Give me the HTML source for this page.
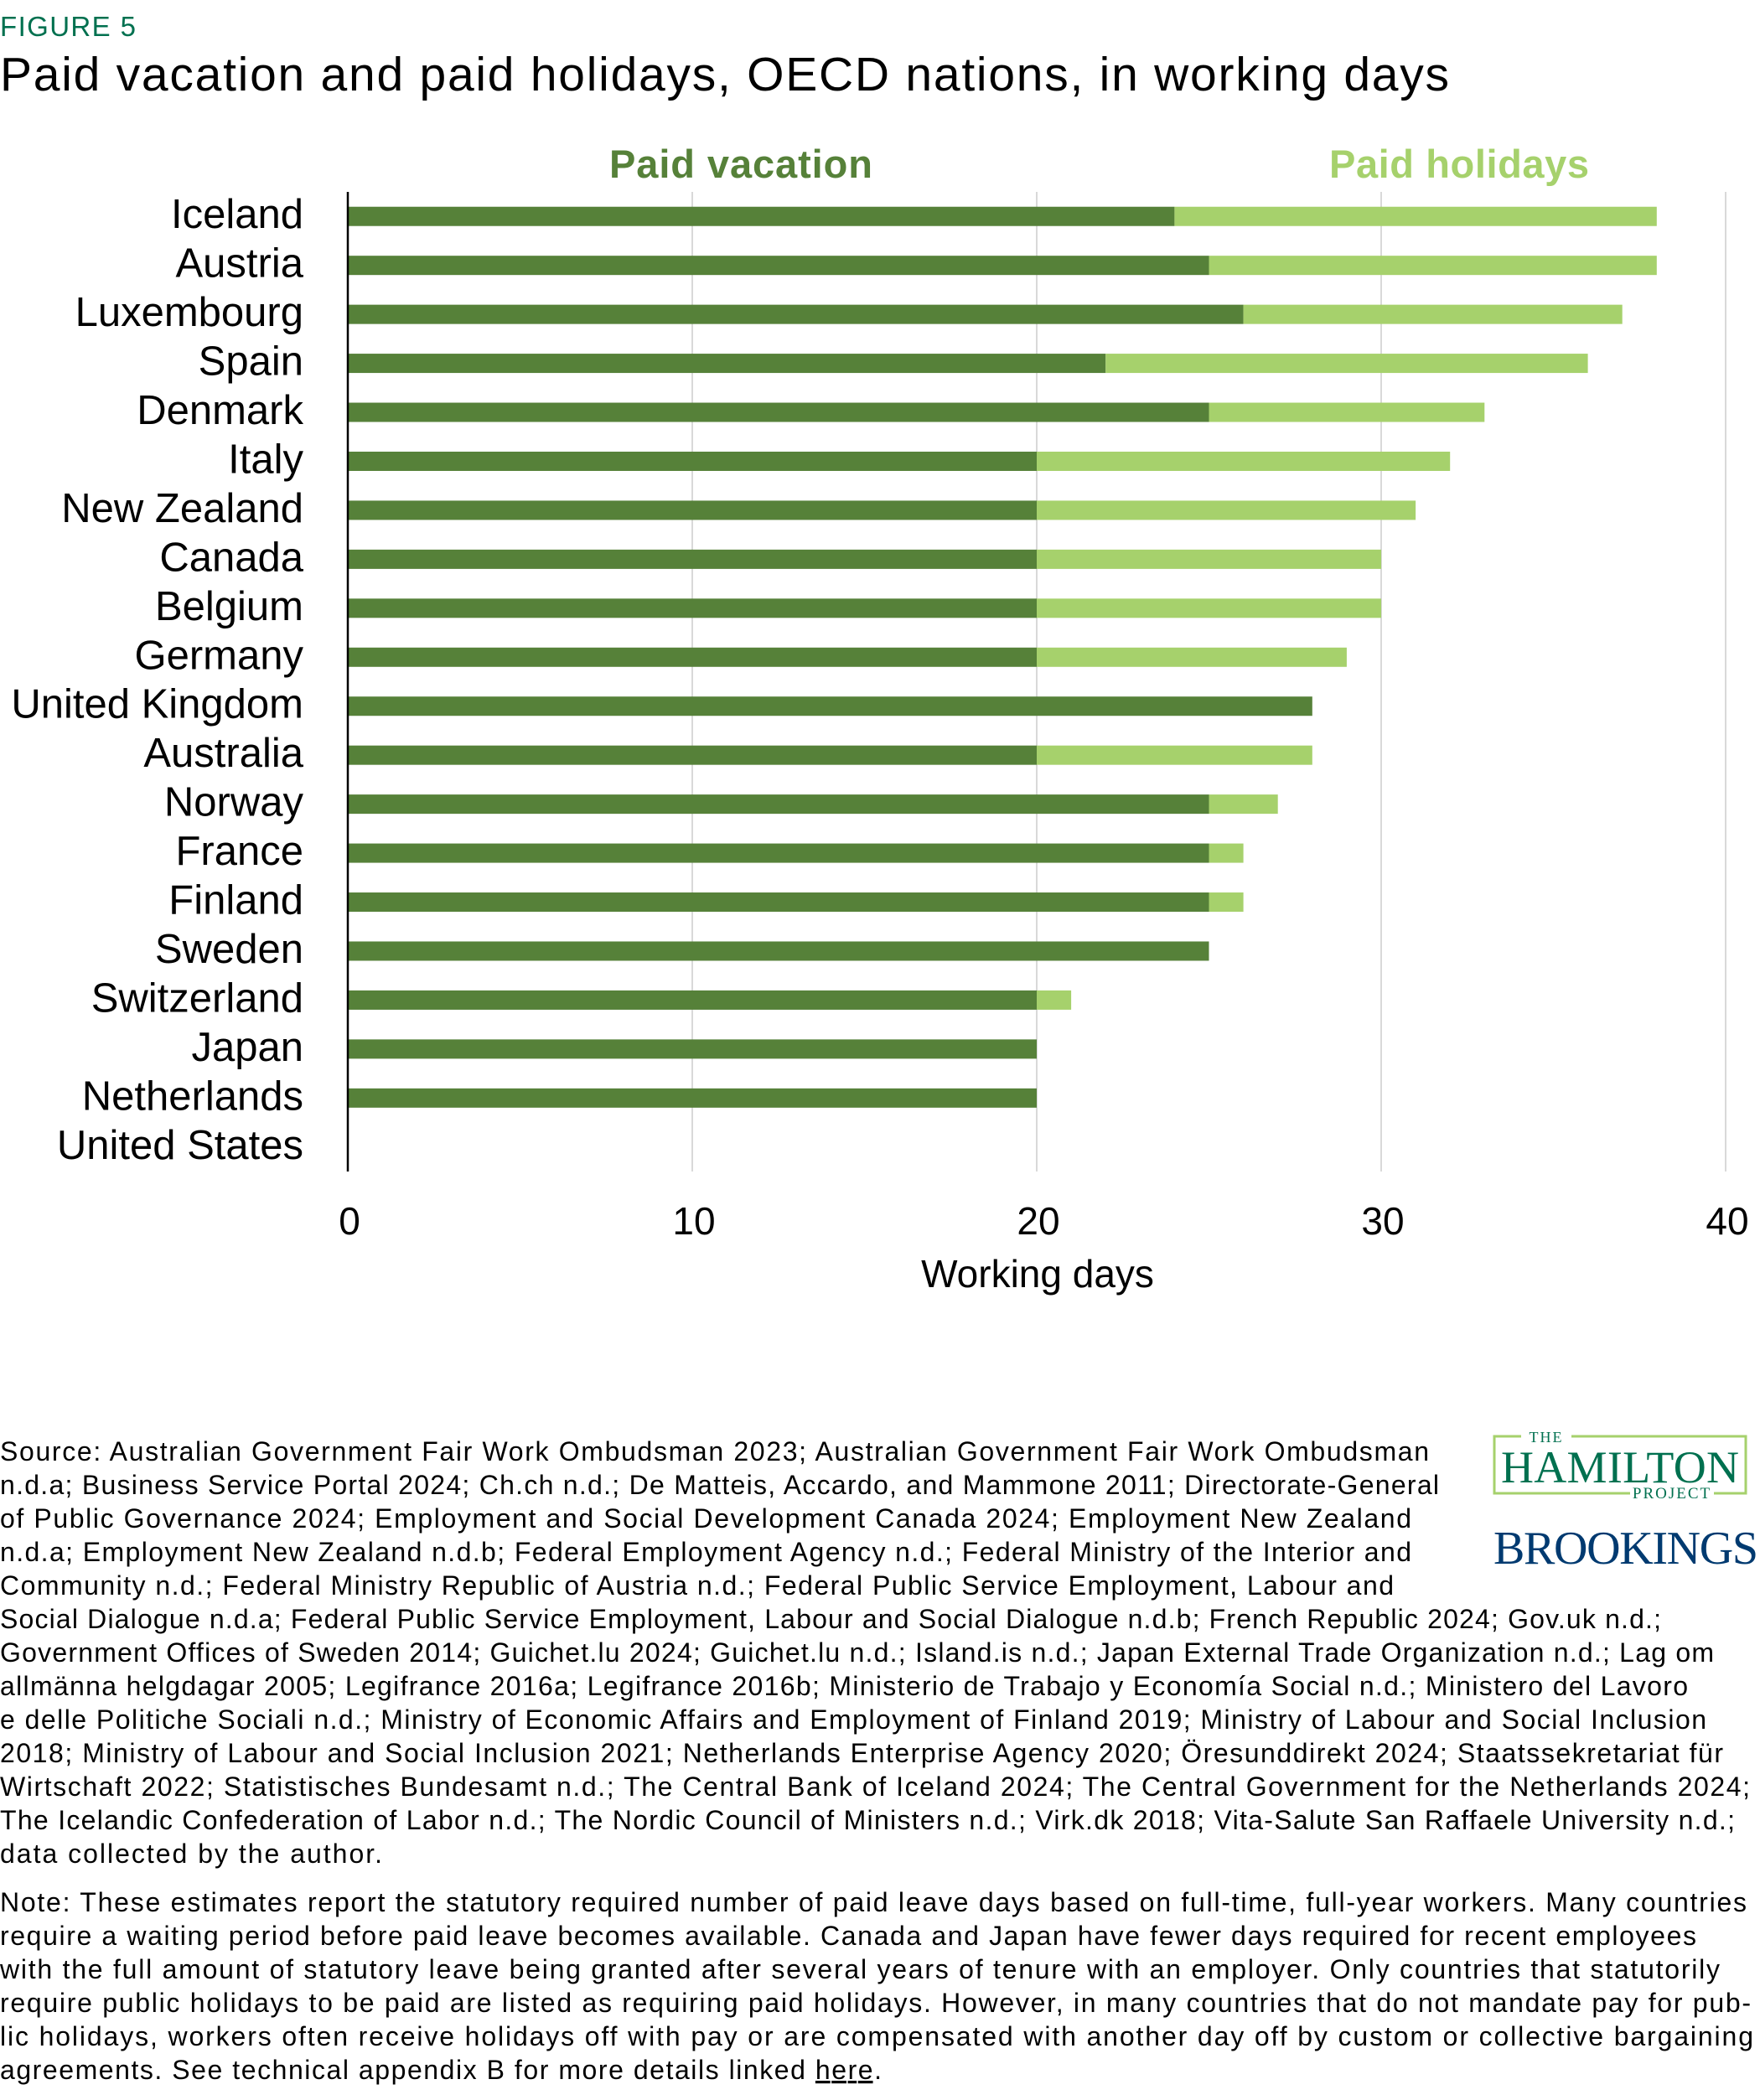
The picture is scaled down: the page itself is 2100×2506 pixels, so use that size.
<!DOCTYPE html>
<html><head><meta charset="utf-8"><style>
html,body{margin:0;padding:0;background:#fff;}
svg{display:block;font-family:"Liberation Sans",sans-serif;}
</style></head><body>
<svg id="chart" width="2100" height="2506" viewBox="0 0 2100 2506" xmlns="http://www.w3.org/2000/svg">
<text x="0" y="43" font-size="33" fill="#00704f" textLength="162">FIGURE 5</text>
<text x="0" y="108" font-size="57" fill="#000" textLength="1729">Paid vacation and paid holidays, OECD nations, in working days</text>
<text x="727" y="212" font-size="47" font-weight="bold" fill="#568139" textLength="314">Paid vacation</text>
<text x="1586" y="212" font-size="47" font-weight="bold" fill="#a6d16c" textLength="310">Paid holidays</text>
<g id="grid"></g>
<g id="bars"></g>
<g id="ylabels"></g>
<g id="xlabels"></g>
<text x="1238" y="1536" font-size="46" text-anchor="middle" fill="#000">Working days</text>

<g font-size="32" fill="#000">
<text x="0" y="1743" textLength="1705">Source: Australian Government Fair Work Ombudsman 2023; Australian Government Fair Work Ombudsman</text>
<text x="0" y="1783" textLength="1717">n.d.a; Business Service Portal 2024; Ch.ch n.d.; De Matteis, Accardo, and Mammone 2011; Directorate-General</text>
<text x="0" y="1823" textLength="1684">of Public Governance 2024; Employment and Social Development Canada 2024; Employment New Zealand</text>
<text x="0" y="1863" textLength="1684">n.d.a; Employment New Zealand n.d.b; Federal Employment Agency n.d.; Federal Ministry of the Interior and</text>
<text x="0" y="1903" textLength="1663">Community n.d.; Federal Ministry Republic of Austria n.d.; Federal Public Service Employment, Labour and</text>
<text x="0" y="1943" textLength="1982">Social Dialogue n.d.a; Federal Public Service Employment, Labour and Social Dialogue n.d.b; French Republic 2024; Gov.uk n.d.;</text>
<text x="0" y="1983" textLength="2045">Government Offices of Sweden 2014; Guichet.lu 2024; Guichet.lu n.d.; Island.is n.d.; Japan External Trade Organization n.d.; Lag om</text>
<text x="0" y="2023" textLength="2014">allmänna helgdagar 2005; Legifrance 2016a; Legifrance 2016b; Ministerio de Trabajo y Economía Social n.d.; Ministero del Lavoro</text>
<text x="0" y="2063" textLength="2036">e delle Politiche Sociali n.d.; Ministry of Economic Affairs and Employment of Finland 2019; Ministry of Labour and Social Inclusion</text>
<text x="0" y="2103" textLength="2056">2018; Ministry of Labour and Social Inclusion 2021; Netherlands Enterprise Agency 2020; Öresunddirekt 2024; Staatssekretariat für</text>
<text x="0" y="2143" textLength="2088">Wirtschaft 2022; Statistisches Bundesamt n.d.; The Central Bank of Iceland 2024; The Central Government for the Netherlands 2024;</text>
<text x="0" y="2183" textLength="2070">The Icelandic Confederation of Labor n.d.; The Nordic Council of Ministers n.d.; Virk.dk 2018; Vita-Salute San Raffaele University n.d.;</text>
<text x="0" y="2223" textLength="456">data collected by the author.</text>
</g>
<g font-size="32" fill="#000">
<text x="0" y="2281" textLength="2084">Note: These estimates report the statutory required number of paid leave days based on full-time, full-year workers. Many countries</text>
<text x="0" y="2321" textLength="2024">require a waiting period before paid leave becomes available. Canada and Japan have fewer days required for recent employees</text>
<text x="0" y="2361" textLength="2052">with the full amount of statutory leave being granted after several years of tenure with an employer. Only countries that statutorily</text>
<text x="0" y="2401" textLength="2089">require public holidays to be paid are listed as requiring paid holidays. However, in many countries that do not mandate pay for pub-</text>
<text x="0" y="2441" textLength="2092">lic holidays, workers often receive holidays off with pay or are compensated with another day off by custom or collective bargaining</text>
<text x="0" y="2481" textLength="1052">agreements. See technical appendix B for more details linked <tspan text-decoration="underline">here</tspan>.</text>
</g>

<g>
<rect x="1783" y="1714" width="300" height="68" fill="none" stroke="#a6d16c" stroke-width="3"/>
<rect x="1815" y="1705" width="60" height="18" fill="#fff"/>
<text x="1845" y="1721" font-family="Liberation Serif,serif" font-size="18" fill="#00704f" text-anchor="middle" letter-spacing="2">THE</text>
<text x="1933" y="1769" font-family="Liberation Serif,serif" font-size="54" fill="#00704f" text-anchor="middle" textLength="284">HAMILTON</text>
<rect x="1945" y="1772" width="100" height="18" fill="#fff"/>
<text x="1995" y="1788" font-family="Liberation Serif,serif" font-size="19" fill="#00704f" text-anchor="middle" letter-spacing="2">PROJECT</text>
</g>
<text x="1782" y="1866" font-family="Liberation Serif,serif" font-size="56" fill="#003a70" textLength="316">BROOKINGS</text>
</svg>
<script>
const countries = ["Iceland","Austria","Luxembourg","Spain","Denmark","Italy","New Zealand","Canada","Belgium","Germany","United Kingdom","Australia","Norway","France","Finland","Sweden","Switzerland","Japan","Netherlands","United States"];
const vacation = [24,25,26,22,25,20,20,20,20,20,28,20,25,25,25,25,20,20,20,0];
const holidays = [14,13,11,14,8,12,11,10,10,9,0,8,2,1,1,0,1,0,0,0];
const ticks = [0,10,20,30,40];

const NS = "http://www.w3.org/2000/svg";
const X0 = 415, X1 = 2059, XMAX = 40;
const Y0 = 229, Y1 = 1398;
function xs(v){ return X0 + (X1 - X0) * v / XMAX; }
function yc(i){ const step = (Y1 - Y0) / countries.length; return Y0 + step * (i + 0.5); }
function mk(tag, attrs, parent){ const e = document.createElementNS(NS, tag); for (const k in attrs) e.setAttribute(k, attrs[k]); parent.appendChild(e); return e; }

const grid = document.getElementById('grid');
const xl = document.getElementById('xlabels');
ticks.forEach(t => {
  if (t > 0) {
    const g = mk('line', {x1: xs(t), x2: xs(t), y1: Y0, y2: Y1, stroke: '#d9d9d9', 'stroke-width': 2}, grid);
    
    
  }
  const tx = mk('text', {x: xs(t) + 2, y: 1473, 'font-size': 46, 'text-anchor': 'middle', fill: '#000'}, xl);
  tx.textContent = t;
  
  
});
const bars = document.getElementById('bars');
const yl = document.getElementById('ylabels');
const BH = 23;
countries.forEach((c, i) => {
  const cy = yc(i);
  if (vacation[i] > 0) {
    const r = mk('rect', {x: xs(0), y: cy - BH/2, width: xs(vacation[i]) - xs(0), height: BH, fill: '#568139'}, bars);
    
    
  }
  if (holidays[i] > 0) {
    const r2 = mk('rect', {x: xs(vacation[i]), y: cy - BH/2, width: xs(vacation[i] + holidays[i]) - xs(vacation[i]), height: BH, fill: '#a6d16c'}, bars);
    
    
  }
  const t = mk('text', {x: 362, y: cy + 14, 'font-size': 49, 'text-anchor': 'end', fill: '#000'}, yl);
  t.textContent = c;
  
  
});
const ax = mk('line', {x1: X0, x2: X0, y1: Y0, y2: Y1, stroke: '#000', 'stroke-width': 2.5}, grid.parentNode);


</script>
</body></html>
